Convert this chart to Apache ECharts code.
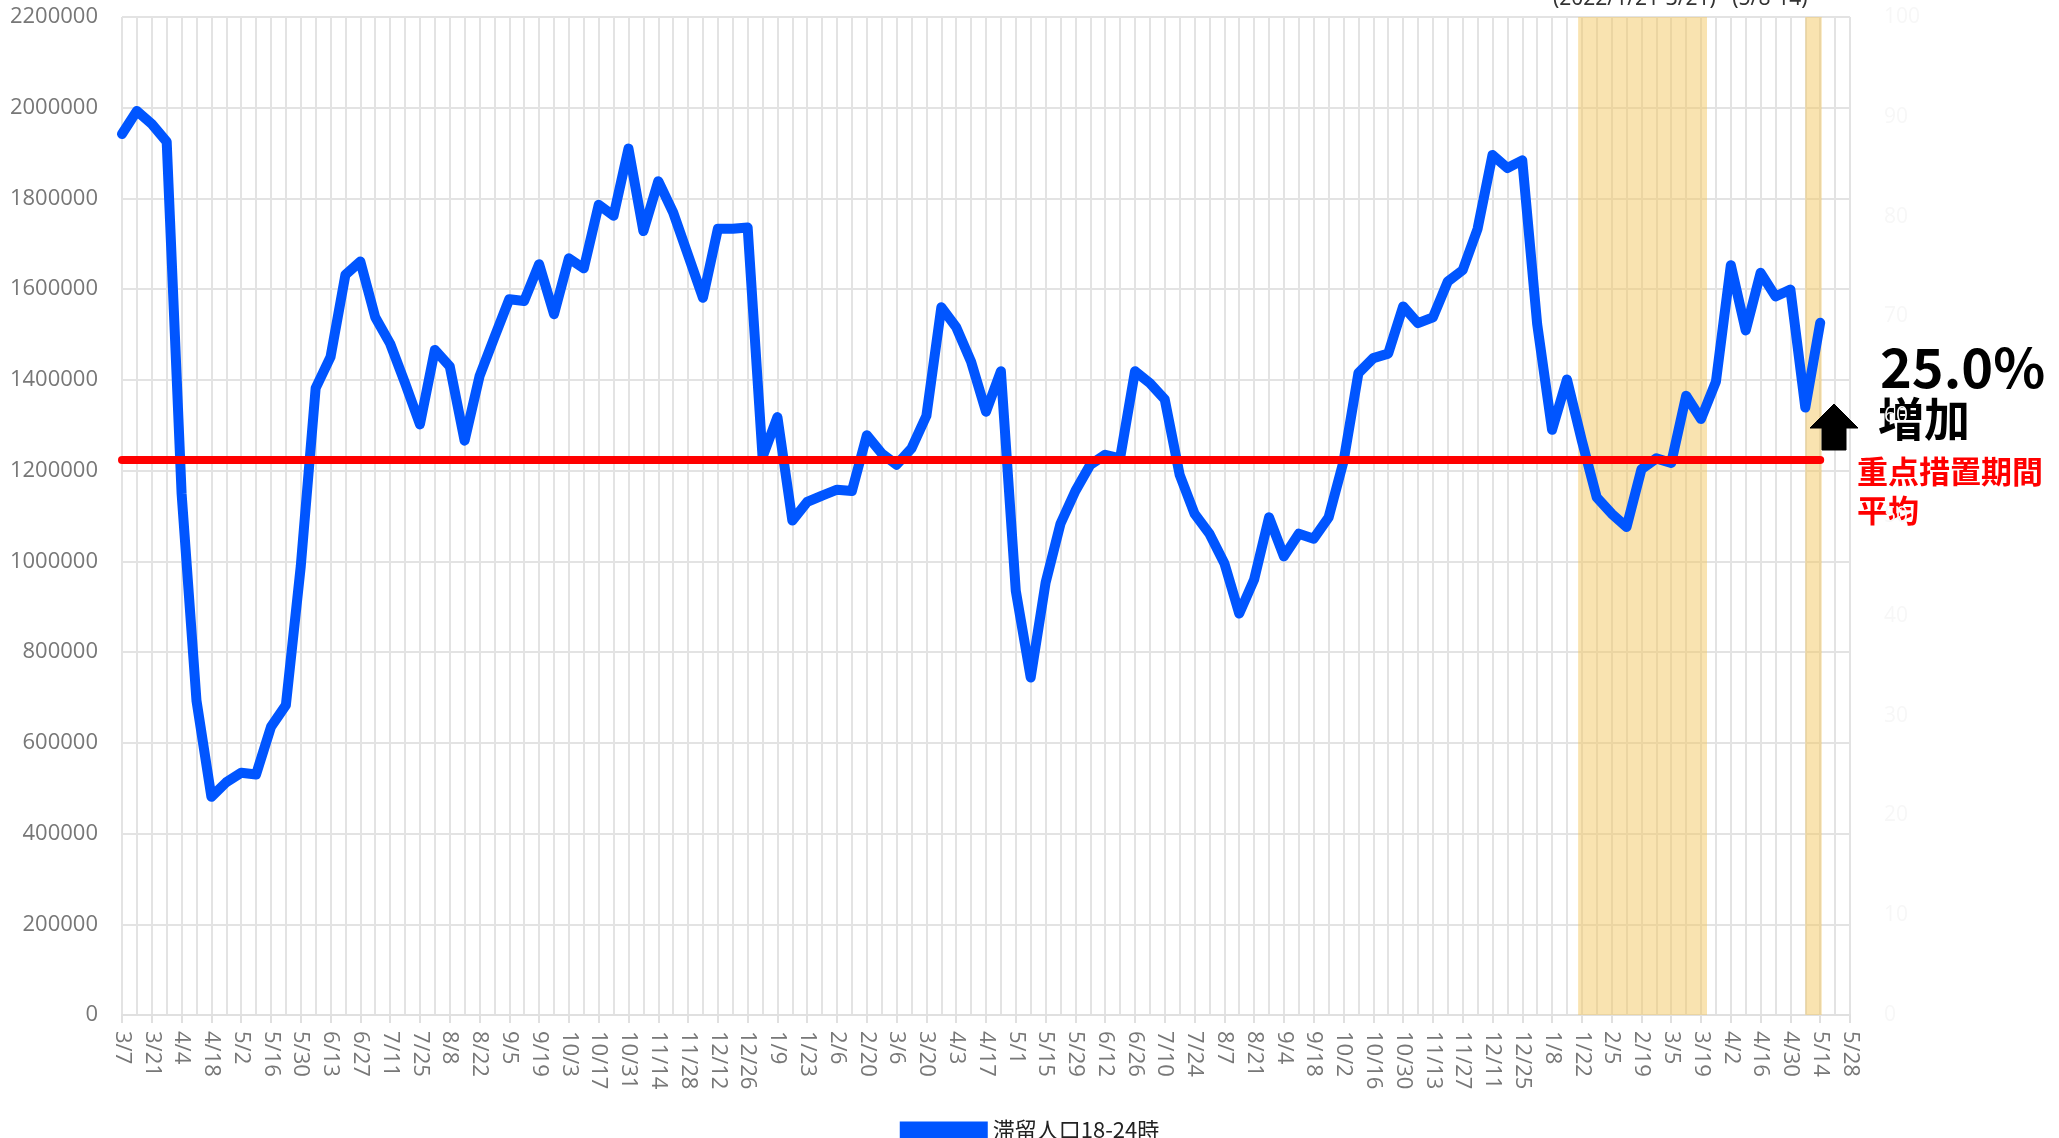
<!DOCTYPE html>
<html>
<head>
<meta charset="utf-8">
<script src="https://cdn.jsdelivr.net/npm/echarts@6/dist/echarts.min.js"></script>
<style>
  html, body { margin: 0; padding: 0; background: #fff; }
  #main { width: 2059px; height: 1138px; }
</style>
</head>
<body>
<div id="main"></div>
<script>
// 週ごとの日付（土曜日）2020/3/7 - 2022/5/28
const weeks = [
  '3/7','3/14','3/21','3/28','4/4','4/11','4/18','4/25','5/2','5/9','5/16','5/23','5/30',
  '6/6','6/13','6/20','6/27','7/4','7/11','7/18','7/25','8/1','8/8','8/15','8/22','8/29',
  '9/5','9/12','9/19','9/26','10/3','10/10','10/17','10/24','10/31','11/7','11/14','11/21',
  '11/28','12/5','12/12','12/19','12/26',
  '1/2','1/9','1/16','1/23','1/30','2/6','2/13','2/20','2/27','3/6','3/13','3/20','3/27',
  '4/3','4/10','4/17','4/24','5/1','5/8','5/15','5/22','5/29','6/5','6/12','6/19','6/26',
  '7/3','7/10','7/17','7/24','7/31','8/7','8/14','8/21','8/28','9/4','9/11','9/18','9/25',
  '10/2','10/9','10/16','10/23','10/30','11/6','11/13','11/20','11/27','12/4','12/11',
  '12/18','12/25',
  '1/1','1/8','1/15','1/22','1/29','2/5','2/12','2/19','2/26','3/5','3/12','3/19','3/26',
  '4/2','4/9','4/16','4/23','4/30','5/7','5/14','5/21','5/28'
];

// 滞留人口18-24時（週平均）
const stayPop = [
  1942000, 1993000, 1964000, 1925000, 1150000, 693000, 481000, 513000, 534000, 530000,
  635000, 683000, 989000, 1382000, 1451000, 1632000, 1661000, 1538000, 1480000, 1393000,
  1302000, 1466000, 1430000, 1266000, 1408000, 1494000, 1578000, 1574000, 1655000, 1545000,
  1668000, 1646000, 1786000, 1762000, 1910000, 1728000, 1838000, 1769000, 1675000, 1581000,
  1733000, 1733000, 1736000, 1230000, 1318000, 1090000, 1131000, 1145000, 1158000, 1155000,
  1278000, 1238000, 1213000, 1249000, 1321000, 1560000, 1516000, 1440000, 1330000, 1419000,
  935000, 744000, 953000, 1083000, 1155000, 1213000, 1235000, 1227000, 1419000, 1393000,
  1357000, 1191000, 1105000, 1061000, 996000, 885000, 960000, 1097000, 1011000, 1061000,
  1050000, 1097000, 1220000, 1415000, 1448000, 1458000, 1562000, 1525000, 1538000, 1617000,
  1642000, 1733000, 1896000, 1867000, 1884000, 1523000, 1290000, 1401000, 1266000, 1141000,
  1105000, 1076000, 1203000, 1227000, 1217000, 1365000, 1314000, 1396000, 1653000, 1509000,
  1636000, 1584000, 1599000, 1339000, 1526000
];

// 重点措置期間平均
const periodAvg = 1225000;
const avgRange = ['3/7', '5/14'];

// 網掛け期間（週インデックス）: 2022/1/21-3/21, 5/8-14
const bands = [[97.75, 106.4], [113.0, 114.1]];

const chart = echarts.init(document.getElementById('main'));

const option = {
  animation: false,
  textStyle: { fontFamily: 'Open Sans' },
  grid: { left: 122, right: 209, top: 17, bottom: 123 },
  legend: {
    data: ['滞留人口18-24時'],
    top: 1114,
    left: 'center',
    icon: 'rect',
    itemWidth: 88,
    itemHeight: 17,
    itemGap: 10,
    textStyle: { fontSize: 22, color: '#222', fontFamily: 'Noto Sans CJK JP' }
  },
  xAxis: [{
    type: 'category',
    data: weeks,
    boundaryGap: false,
    axisLine: { lineStyle: { color: '#e0e0e0', width: 2 } },
    axisTick: { show: true, interval: 1, length: 8, lineStyle: { color: '#e0e0e0', width: 2 } },
    axisLabel: { interval: 1, rotate: -90, margin: 16, fontSize: 22, color: '#777' },
    splitLine: { show: true, interval: 0, lineStyle: { color: '#e3e3e3', width: 2 } }
  }, {
    type: 'value',
    min: 0,
    max: weeks.length - 1,
    show: false
  }],
  yAxis: [{
    type: 'value',
    min: 0,
    max: 2200000,
    interval: 200000,
    axisLine: { show: false },
    axisTick: { show: false },
    axisLabel: { margin: 24, fontSize: 22, color: '#777', formatter: v => String(v) },
    splitLine: { lineStyle: { color: '#e3e3e3', width: 2 } }
  }, {
    type: 'value',
    min: 0,
    max: 100,
    interval: 10,
    position: 'right',
    axisLine: { show: false },
    axisTick: { show: false },
    axisLabel: { margin: 34, fontSize: 21, color: '#f7f7f7' },
    splitLine: { show: false }
  }],
  series: [{
    name: 'bands',
    type: 'line',
    xAxisIndex: 1,
    data: [],
    z: 1,
    markArea: {
      silent: true,
      itemStyle: { color: 'rgba(243,199,97,0.5)' },
      data: bands.map(b => [{ xAxis: b[0] }, { xAxis: b[1] }])
    }
  }, {
    name: 'avg',
    type: 'line',
    data: [],
    z: 2,
    markLine: {
      silent: true,
      symbol: 'none',
      label: { show: false },
      lineStyle: { color: '#ff0000', width: 8, type: 'solid', cap: 'round' },
      data: [[{ xAxis: avgRange[0], yAxis: periodAvg }, { xAxis: avgRange[1], yAxis: periodAvg }]]
    }
  }, {
    name: '滞留人口18-24時',
    type: 'line',
    data: stayPop,
    z: 3,
    symbol: 'none',
    itemStyle: { color: '#0055ff' },
    lineStyle: { color: '#0055ff', width: 10, join: 'round', cap: 'round' }
  }],
  graphic: [{
    type: 'text',
    x: 1553, y: 10,
    style: { text: '(2022/1/21-3/21)   (5/8-14)', fontSize: 21, fill: '#333',
      fontFamily: 'Noto Sans', verticalAlign: 'bottom' }
  }, {
    type: 'text',
    x: 1880, y: 340,
    style: { text: '25.0%', fontSize: 54, fontWeight: 'bold', fill: '#000',
      fontFamily: 'Noto Sans CJK JP', verticalAlign: 'top' }
  }, {
    type: 'text',
    x: 1878, y: 396,
    style: { text: '増加', fontSize: 46, fontWeight: 'bold', fill: '#000',
      fontFamily: 'Noto Sans CJK JP', verticalAlign: 'top' }
  }, {
    type: 'polygon',
    z: 10,
    shape: { points: [[1834, 404], [1858, 428], [1846, 428], [1846, 450], [1822, 450], [1822, 428], [1810, 428]] },
    style: { fill: '#000', stroke: '#000', lineWidth: 1 }
  }, {
    type: 'text',
    x: 1857, y: 456,
    style: { text: '重点措置期間', fontSize: 31, fontWeight: 'bold', fill: '#ff0000',
      fontFamily: 'Noto Sans CJK JP', verticalAlign: 'top' }
  }, {
    type: 'text',
    x: 1857, y: 495,
    style: { text: '平均', fontSize: 31, fontWeight: 'bold', fill: '#ff0000',
      fontFamily: 'Noto Sans CJK JP', verticalAlign: 'top' }
  }]
};

chart.setOption(option);
</script>
</body>
</html>
